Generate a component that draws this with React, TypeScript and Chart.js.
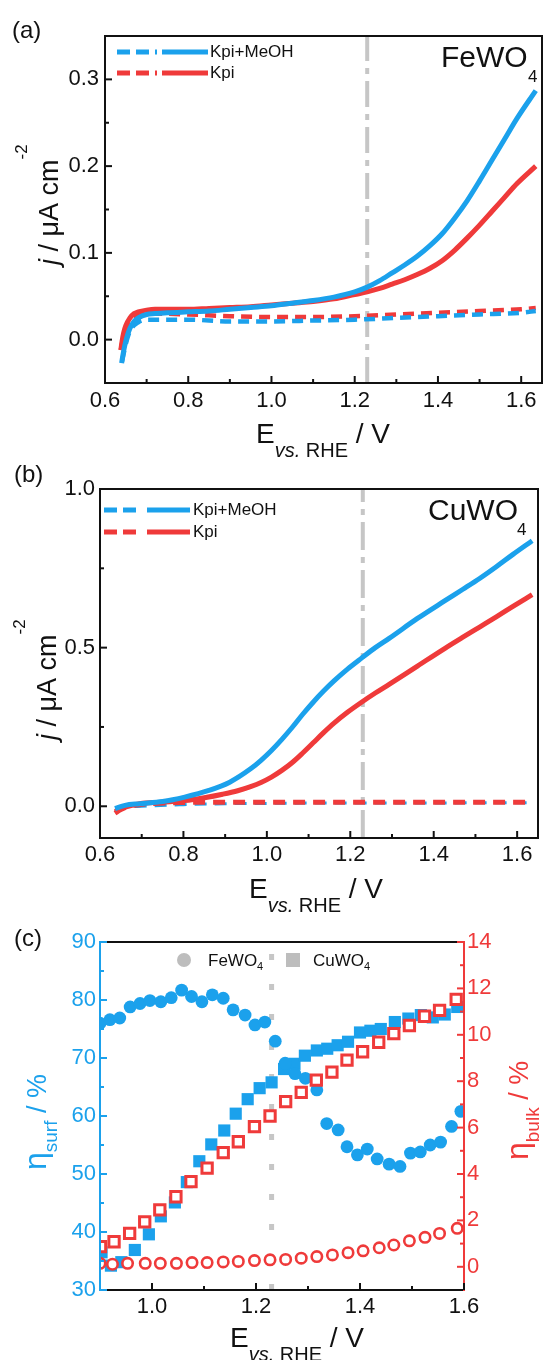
import React, { useEffect, useRef } from "react";
import { Chart, registerables } from "chart.js";

Chart.register(...registerables);

const FONT = '"Liberation Sans", Arial, Helvetica, sans-serif';
const BLUE = "#1BA1EC";
const RED = "#EF3A3A";
const GREY = "#C6C6C6";
const INK = "#111111";

// ---------- Panel (a): FeWO4 ----------
const A_MEOH_LIGHT_E = [0.640, 0.643, 0.647, 0.652, 0.66, 0.67, 0.68, 0.70, 0.72, 0.75, 0.80, 0.85, 0.90, 0.95, 1.00, 1.05, 1.10, 1.15, 1.20, 1.23, 1.26, 1.29, 1.32, 1.35, 1.38, 1.41, 1.44, 1.47, 1.50, 1.53, 1.56, 1.59, 1.635];
const A_MEOH_LIGHT_J = [-0.027, -0.018, -0.008, 0.002, 0.013, 0.021, 0.025, 0.029, 0.030, 0.031, 0.032, 0.033, 0.035, 0.037, 0.039, 0.042, 0.045, 0.049, 0.055, 0.0605, 0.068, 0.077, 0.086, 0.096, 0.108, 0.122, 0.140, 0.160, 0.183, 0.207, 0.231, 0.255, 0.287];
const A_KPI_LIGHT_E = [0.638, 0.641, 0.645, 0.650, 0.66, 0.67, 0.68, 0.70, 0.72, 0.75, 0.80, 0.85, 0.90, 0.95, 1.00, 1.05, 1.10, 1.15, 1.20, 1.23, 1.26, 1.29, 1.32, 1.35, 1.38, 1.41, 1.44, 1.47, 1.50, 1.53, 1.56, 1.59, 1.635];
const A_KPI_LIGHT_J = [-0.012, -0.002, 0.008, 0.016, 0.025, 0.030, 0.032, 0.034, 0.035, 0.035, 0.035, 0.036, 0.037, 0.038, 0.040, 0.042, 0.044, 0.047, 0.052, 0.055, 0.059, 0.064, 0.069, 0.075, 0.082, 0.091, 0.103, 0.117, 0.132, 0.148, 0.164, 0.180, 0.200];
const A_MEOH_DARK_E = [0.641, 0.65, 0.66, 0.68, 0.70, 0.80, 0.90, 1.00, 1.10, 1.20, 1.30, 1.40, 1.50, 1.60, 1.635];
const A_MEOH_DARK_J = [-0.025, -0.005, 0.010, 0.020, 0.023, 0.023, 0.021, 0.021, 0.022, 0.023, 0.025, 0.027, 0.029, 0.031, 0.033];
const A_KPI_DARK_E = [0.638, 0.645, 0.655, 0.67, 0.69, 0.72, 0.80, 0.90, 1.00, 1.10, 1.20, 1.30, 1.40, 1.50, 1.60, 1.635];
const A_KPI_DARK_J = [-0.012, 0.005, 0.018, 0.026, 0.029, 0.030, 0.029, 0.027, 0.026, 0.026, 0.027, 0.029, 0.031, 0.033, 0.035, 0.0365];

// ---------- Panel (b): CuWO4 ----------
const B_MEOH_LIGHT_E = [0.636, 0.66, 0.695, 0.75, 0.803, 0.861, 0.911, 0.961, 0.986, 1.011, 1.036, 1.061, 1.086, 1.111, 1.136, 1.161, 1.194, 1.227, 1.26, 1.294, 1.361, 1.427, 1.47, 1.51, 1.55, 1.59, 1.636];
const B_MEOH_LIGHT_J = [-0.007, 0.003, 0.008, 0.015, 0.029, 0.050, 0.076, 0.118, 0.145, 0.176, 0.211, 0.249, 0.290, 0.328, 0.363, 0.395, 0.433, 0.467, 0.500, 0.530, 0.592, 0.648, 0.684, 0.718, 0.755, 0.794, 0.837];
const B_KPI_LIGHT_E = [0.636, 0.66, 0.695, 0.75, 0.803, 0.85, 0.894, 0.93, 0.961, 0.986, 1.011, 1.036, 1.061, 1.086, 1.111, 1.136, 1.161, 1.194, 1.227, 1.26, 1.294, 1.361, 1.427, 1.47, 1.51, 1.55, 1.59, 1.636];
const B_KPI_LIGHT_J = [-0.017, -0.003, 0.008, 0.013, 0.018, 0.027, 0.038, 0.049, 0.062, 0.075, 0.092, 0.113, 0.138, 0.168, 0.200, 0.232, 0.262, 0.297, 0.328, 0.357, 0.385, 0.442, 0.498, 0.533, 0.565, 0.597, 0.630, 0.667];
const B_MEOH_DARK_E = [0.636, 0.66, 0.70, 0.80, 0.90, 1.00, 1.10, 1.20, 1.30, 1.40, 1.50, 1.60, 1.636];
const B_MEOH_DARK_J = [-0.012, -0.004, 0.000, 0.005, 0.008, 0.009, 0.010, 0.010, 0.010, 0.010, 0.011, 0.011, 0.011];
const B_KPI_DARK_E = [0.636, 0.65, 0.67, 0.70, 0.80, 0.90, 1.00, 1.10, 1.20, 1.30, 1.40, 1.50, 1.60, 1.636];
const B_KPI_DARK_J = [-0.022, -0.010, 0.000, 0.006, 0.012, 0.013, 0.013, 0.013, 0.013, 0.013, 0.013, 0.013, 0.013, 0.013];

// ---------- Panel (c): efficiencies ----------
const C_FE_SURF_E = [0.900, 0.919, 0.938, 0.958, 0.977, 0.996, 1.017, 1.037, 1.057, 1.076, 1.096, 1.116, 1.137, 1.156, 1.179, 1.198, 1.217, 1.237, 1.256, 1.275, 1.295, 1.317, 1.336, 1.358, 1.375, 1.395, 1.414, 1.433, 1.456, 1.477, 1.497, 1.516, 1.535, 1.555, 1.576, 1.594];
const C_FE_SURF = [76.0, 76.6, 76.9, 78.8, 79.4, 79.9, 79.7, 80.4, 81.7, 80.6, 79.7, 80.9, 80.3, 78.3, 77.4, 75.7, 76.2, 72.9, 69.1, 67.3, 66.5, 64.5, 58.7, 57.6, 54.7, 53.3, 54.3, 52.6, 51.7, 51.3, 53.6, 53.8, 55.0, 55.5, 58.2, 60.8];
const C_CU_SURF_E = [0.903, 0.921, 0.941, 0.967, 0.994, 1.017, 1.044, 1.067, 1.091, 1.114, 1.139, 1.161, 1.184, 1.207, 1.230, 1.254, 1.274, 1.294, 1.317, 1.337, 1.357, 1.377, 1.400, 1.420, 1.440, 1.467, 1.493, 1.517, 1.540, 1.563, 1.587];
const C_CU_SURF = [36.5, 34.2, 34.8, 36.9, 39.6, 42.7, 45.1, 48.6, 52.2, 55.1, 57.5, 60.4, 62.9, 64.8, 65.8, 68.1, 69.0, 70.4, 71.3, 71.6, 72.2, 72.8, 74.4, 74.7, 75.0, 76.2, 76.8, 77.4, 77.0, 77.5, 78.8];
const C_CU_BULK_E = [0.901, 0.927, 0.957, 0.986, 1.015, 1.046, 1.075, 1.106, 1.137, 1.166, 1.197, 1.227, 1.257, 1.287, 1.316, 1.346, 1.375, 1.405, 1.436, 1.465, 1.495, 1.524, 1.553, 1.585];
const C_CU_BULK = [0.87, 1.08, 1.44, 1.94, 2.45, 3.02, 3.67, 4.25, 4.92, 5.39, 6.04, 6.50, 7.12, 7.52, 8.05, 8.39, 8.91, 9.27, 9.68, 10.05, 10.40, 10.80, 11.05, 11.53];
const C_FE_BULK_E = [0.900, 0.924, 0.953, 0.987, 1.016, 1.047, 1.077, 1.106, 1.137, 1.166, 1.197, 1.227, 1.257, 1.287, 1.317, 1.347, 1.377, 1.406, 1.437, 1.465, 1.495, 1.525, 1.553, 1.587];
const C_FE_BULK = [0.15, 0.11, 0.15, 0.15, 0.15, 0.15, 0.18, 0.18, 0.21, 0.23, 0.27, 0.30, 0.32, 0.37, 0.44, 0.51, 0.61, 0.69, 0.82, 0.94, 1.12, 1.27, 1.44, 1.66];

// ---------- reference potential ----------
const E_REF = 1.23;

// ---------- ticks ----------
const AB_X_TICKS = [0.6, 0.8, 1.0, 1.2, 1.4, 1.6];
const AB_X_MINOR = [0.7, 0.9, 1.1, 1.3, 1.5];
const A_Y_TICKS = [0.0, 0.1, 0.2, 0.3];
const A_Y_MINOR = [0.05, 0.15, 0.25];
const B_Y_TICKS = [0.0, 0.5, 1.0];
const B_Y_MINOR = [0.25, 0.75];
const C_X_TICKS = [1.0, 1.2, 1.4, 1.6];
const C_X_MINOR = [1.1, 1.3, 1.5];
const C_YL_TICKS = [30, 40, 50, 60, 70, 80, 90];
const C_YL_MINOR = [35, 45, 55, 65, 75, 85];
const C_YR_TICKS = [0, 2, 4, 6, 8, 10, 12, 14];
const C_YR_MINOR = [1, 3, 5, 7, 9, 11, 13];

// ---------- helpers ----------
const pts = (xs: number[], ys: number[]) => xs.map((x, i) => ({ x, y: ys[i] }));
const font = (size: number, italic?: boolean) => `${italic ? "italic " : ""}${size}px ${FONT}`;

type Piece = { t: string; size: number; italic?: boolean; dy?: number };

function drawRich(ctx: CanvasRenderingContext2D, pieces: Piece[], x: number, y: number, color: string, rotate = false) {
  ctx.save();
  ctx.translate(x, y);
  if (rotate) ctx.rotate(-Math.PI / 2);
  ctx.fillStyle = color;
  ctx.textBaseline = "alphabetic";
  ctx.textAlign = "left";
  let cx = 0;
  for (const p of pieces) {
    ctx.font = font(p.size, p.italic);
    ctx.fillText(p.t, cx, p.dy || 0);
    cx += ctx.measureText(p.t).width;
  }
  ctx.restore();
}

function seg(ctx: CanvasRenderingContext2D, x1: number, y1: number, x2: number, y2: number) {
  ctx.beginPath();
  ctx.moveTo(x1, y1);
  ctx.lineTo(x2, y2);
  ctx.stroke();
}

function drawFrame(ctx: CanvasRenderingContext2D, a: any, top: string, right: string, bottom: string, left: string) {
  ctx.save();
  ctx.lineWidth = 2;
  ctx.lineCap = "square";
  ctx.strokeStyle = top; seg(ctx, a.left, a.top, a.right, a.top);
  ctx.strokeStyle = bottom; seg(ctx, a.left, a.bottom, a.right, a.bottom);
  ctx.strokeStyle = left; seg(ctx, a.left, a.top, a.left, a.bottom);
  ctx.strokeStyle = right; seg(ctx, a.right, a.top, a.right, a.bottom);
  ctx.restore();
}

function drawTicks(ctx: CanvasRenderingContext2D, scale: any, values: number[], len: number, side: string, color: string) {
  const a = scale.chart.chartArea;
  ctx.save();
  ctx.lineWidth = 2;
  ctx.strokeStyle = color;
  for (const v of values) {
    const p = scale.getPixelForValue(v);
    if (side === "bottom") seg(ctx, p, a.bottom, p, a.bottom - len);
    else if (side === "left") seg(ctx, a.left, p, a.left + len, p);
    else seg(ctx, a.right, p, a.right - len, p);
  }
  ctx.restore();
}

function legendRow(ctx: CanvasRenderingContext2D, y: number, x0: number, xd: number, xs: number, x1: number, color: string, label: string, tx: number) {
  ctx.save();
  ctx.strokeStyle = color;
  ctx.lineWidth = 5;
  ctx.lineCap = "butt";
  ctx.setLineDash([13, 6]);
  seg(ctx, x0, y, xd, y);
  ctx.setLineDash([]);
  seg(ctx, xs, y, x1, y);
  ctx.fillStyle = INK;
  ctx.font = font(17);
  ctx.textBaseline = "middle";
  ctx.textAlign = "left";
  ctx.fillText(label, tx, y);
  ctx.restore();
}

function lineDs(xs: number[], ys: number[], color: string, width: number, dash: number[], order: number) {
  return {
    type: "line",
    data: pts(xs, ys),
    borderColor: color,
    backgroundColor: color,
    borderWidth: width,
    borderDash: dash,
    borderCapStyle: "butt",
    pointRadius: 0,
    cubicInterpolationMode: "monotone",
    fill: false,
    order,
  };
}

function refLine(ymin: number, ymax: number, dash: number[], width: number) {
  return {
    type: "line",
    data: [{ x: E_REF, y: ymin }, { x: E_REF, y: ymax }],
    borderColor: GREY,
    borderWidth: width,
    borderDash: dash,
    borderCapStyle: "butt",
    pointRadius: 0,
    fill: false,
    order: 20,
  };
}

function xScale(min: number, max: number, ticks: number[], height: number, padding: number) {
  return {
    type: "linear",
    position: "bottom",
    min,
    max,
    afterBuildTicks: (s: any) => { s.ticks = ticks.map((v) => ({ value: v })); },
    afterFit: (s: any) => { s.height = height; s.paddingLeft = 0; s.paddingRight = 0; },
    grid: { display: false, drawTicks: false },
    border: { display: false },
    ticks: { autoSkip: false, maxRotation: 0, minRotation: 0, padding, color: INK, font: { size: 22, family: FONT }, callback: (v: any) => Number(v).toFixed(1) },
  };
}

function yScale(min: number, max: number, ticks: number[], width: number, padding: number, position: string, color: string, digits: number) {
  return {
    type: "linear",
    position,
    min,
    max,
    afterBuildTicks: (s: any) => { s.ticks = ticks.map((v) => ({ value: v })); },
    afterFit: (s: any) => { s.width = width; s.paddingTop = 0; s.paddingBottom = 0; },
    grid: { display: false, drawTicks: false },
    border: { display: false },
    ticks: { autoSkip: false, padding, color, font: { size: 22, family: FONT }, callback: (v: any) => Number(v).toFixed(digits) },
  };
}

const baseOptions = (padding: any) => ({
  responsive: false,
  maintainAspectRatio: false,
  animation: false,
  devicePixelRatio: 1,
  events: [],
  layout: { padding, autoPadding: false },
  plugins: { legend: { display: false }, tooltip: { enabled: false } },
});

function configA(): any {
  return {
    type: "line",
    data: {
      datasets: [
        lineDs(A_MEOH_LIGHT_E, A_MEOH_LIGHT_J, BLUE, 5, [], 1),
        lineDs(A_KPI_LIGHT_E, A_KPI_LIGHT_J, RED, 5, [], 2),
        lineDs(A_MEOH_DARK_E, A_MEOH_DARK_J, BLUE, 4.5, [11, 7], 3),
        lineDs(A_KPI_DARK_E, A_KPI_DARK_J, RED, 4.5, [11, 7], 4),
        refLine(-0.05, 0.35, [26, 7, 6, 7], 4),
      ],
    },
    options: {
      ...baseOptions({ top: 36, right: 1, left: 0, bottom: 0 }),
      scales: {
        x: xScale(0.6, 1.65, AB_X_TICKS, 77, 5),
        y: yScale(-0.05, 0.35, A_Y_TICKS, 105, 6, "left", INK, 1),
      },
    },
    plugins: [
      {
        id: "decorA",
        afterDraw(chart: any) {
          const ctx = chart.ctx as CanvasRenderingContext2D;
          const a = chart.chartArea;
          const xs = chart.scales.x, ys = chart.scales.y;
          drawFrame(ctx, a, INK, INK, INK, INK);
          drawTicks(ctx, xs, AB_X_TICKS, 7, "bottom", INK);
          drawTicks(ctx, xs, AB_X_MINOR, 4, "bottom", INK);
          drawTicks(ctx, ys, A_Y_TICKS, 7, "left", INK);
          drawTicks(ctx, ys, A_Y_MINOR, 4, "left", INK);
          drawRich(ctx, [{ t: "(a)", size: 24 }], 12, 38, INK);
          drawRich(ctx, [{ t: "j", size: 27, italic: true }, { t: " / \u03bcA cm", size: 27 }, { t: "-2", size: 17, dy: -31 }], 58, 265, INK, true);
          drawRich(ctx, [{ t: "E", size: 28 }, { t: "vs.", size: 20, italic: true, dy: 14 }, { t: " RHE", size: 20, dy: 14 }, { t: " / V", size: 28 }], 256, 443, INK);
          drawRich(ctx, [{ t: "FeWO", size: 30 }], 441, 67, INK);
          drawRich(ctx, [{ t: "4", size: 17 }], 528, 82, INK);
          legendRow(ctx, 52, 117, 157, 162, 208, BLUE, "Kpi+MeOH", 210);
          legendRow(ctx, 73, 117, 157, 162, 208, RED, "Kpi", 210);
        },
      },
    ],
  };
}

function configB(): any {
  return {
    type: "line",
    data: {
      datasets: [
        lineDs(B_MEOH_LIGHT_E, B_MEOH_LIGHT_J, BLUE, 5, [], 1),
        lineDs(B_KPI_LIGHT_E, B_KPI_LIGHT_J, RED, 5, [], 2),
        lineDs(B_KPI_DARK_E, B_KPI_DARK_J, RED, 5, [12, 8], 3),
        lineDs(B_MEOH_DARK_E, B_MEOH_DARK_J, BLUE, 3, [12, 8], 4),
        refLine(-0.1, 1.0, [28, 7, 6, 7], 4),
      ],
    },
    options: {
      ...baseOptions({ top: 29, right: 5, left: 0, bottom: 0 }),
      scales: {
        x: xScale(0.6, 1.65, AB_X_TICKS, 82, 4),
        y: yScale(-0.1, 1.0, B_Y_TICKS, 100, 5, "left", INK, 1),
      },
    },
    plugins: [
      {
        id: "decorB",
        afterDraw(chart: any) {
          const ctx = chart.ctx as CanvasRenderingContext2D;
          const a = chart.chartArea;
          const xs = chart.scales.x, ys = chart.scales.y;
          drawFrame(ctx, a, INK, INK, INK, INK);
          drawTicks(ctx, xs, AB_X_TICKS, 7, "bottom", INK);
          drawTicks(ctx, xs, AB_X_MINOR, 4, "bottom", INK);
          drawTicks(ctx, ys, B_Y_TICKS, 7, "left", INK);
          drawTicks(ctx, ys, B_Y_MINOR, 4, "left", INK);
          drawRich(ctx, [{ t: "(b)", size: 24 }], 14, 22, INK);
          drawRich(ctx, [{ t: "j", size: 27, italic: true }, { t: " / \u03bcA cm", size: 27 }, { t: "-2", size: 17, dy: -31 }], 56, 280, INK, true);
          drawRich(ctx, [{ t: "E", size: 28 }, { t: "vs.", size: 20, italic: true, dy: 14 }, { t: " RHE", size: 20, dy: 14 }, { t: " / V", size: 28 }], 249, 438, INK);
          drawRich(ctx, [{ t: "CuWO", size: 30 }], 428, 60, INK);
          drawRich(ctx, [{ t: "4", size: 17 }], 517, 75, INK);
          legendRow(ctx, 50, 104, 141, 147, 190, BLUE, "Kpi+MeOH", 193);
          legendRow(ctx, 72, 104, 141, 147, 190, RED, "Kpi", 193);
        },
      },
    ],
  };
}

function scatterDs(xs: number[], ys: number[], axis: string, style: string, radius: number, fill: string, stroke: string, bw: number, order: number) {
  return {
    type: "scatter",
    data: pts(xs, ys),
    yAxisID: axis,
    pointStyle: style,
    pointRadius: radius,
    pointBackgroundColor: fill,
    pointBorderColor: stroke,
    pointBorderWidth: bw,
    showLine: false,
    clip: 0,
    order,
  };
}

function configC(): any {
  return {
    type: "scatter",
    data: {
      datasets: [
        scatterDs(C_CU_BULK_E, C_CU_BULK, "y2", "rect", 7.3, "#ffffff", RED, 3, 1),
        scatterDs(C_FE_BULK_E, C_FE_BULK, "y2", "circle", 5.2, "#ffffff", RED, 2.6, 2),
        scatterDs(C_FE_SURF_E, C_FE_SURF, "y", "circle", 6.4, BLUE, BLUE, 0, 3),
        scatterDs(C_CU_SURF_E, C_CU_SURF, "y", "rect", 8.6, BLUE, BLUE, 0, 4),
        { ...refLine(30, 90, [6, 24], 5), yAxisID: "y" },
      ],
    },
    options: {
      ...baseOptions({ top: 42, right: 0, left: 0, bottom: 0 }),
      scales: {
        x: xScale(0.9, 1.6, C_X_TICKS, 70, 4),
        y: yScale(30, 90, C_YL_TICKS, 100, 4, "left", BLUE, 0),
        y2: yScale(-1, 14, C_YR_TICKS, 79, 3, "right", RED, 0),
      },
    },
    plugins: [
      {
        id: "decorC",
        afterDraw(chart: any) {
          const ctx = chart.ctx as CanvasRenderingContext2D;
          const a = chart.chartArea;
          const xs = chart.scales.x, yl = chart.scales.y, yr = chart.scales.y2;
          drawFrame(ctx, a, INK, RED, INK, BLUE);
          drawTicks(ctx, xs, C_X_TICKS, 7, "bottom", INK);
          drawTicks(ctx, xs, C_X_MINOR, 4, "bottom", INK);
          drawTicks(ctx, yl, C_YL_TICKS, 7, "left", BLUE);
          drawTicks(ctx, yl, C_YL_MINOR, 4, "left", BLUE);
          drawTicks(ctx, yr, C_YR_TICKS, 7, "right", RED);
          drawTicks(ctx, yr, C_YR_MINOR, 4, "right", RED);
          drawRich(ctx, [{ t: "(c)", size: 24 }], 14, 46, INK);
          drawRich(ctx, [{ t: "\u03b7", size: 32 }, { t: "surf", size: 19, dy: 11 }, { t: " / %", size: 27 }], 46, 270, BLUE, true);
          drawRich(ctx, [{ t: "\u03b7", size: 32 }, { t: "bulk", size: 19, dy: 11 }, { t: " / %", size: 27 }], 528, 260, RED, true);
          drawRich(ctx, [{ t: "E", size: 28 }, { t: "vs.", size: 20, italic: true, dy: 14 }, { t: " RHE", size: 20, dy: 14 }, { t: " / V", size: 28 }], 230, 447, INK);
          // legend
          ctx.save();
          ctx.fillStyle = "#BDBDBD";
          ctx.beginPath();
          ctx.arc(184, 60, 7, 0, Math.PI * 2);
          ctx.fill();
          ctx.fillRect(286, 53, 14, 14);
          ctx.restore();
          drawRich(ctx, [{ t: "FeWO", size: 17 }, { t: "4", size: 11, dy: 4 }], 208, 66, INK);
          drawRich(ctx, [{ t: "CuWO", size: 17 }, { t: "4", size: 11, dy: 4 }], 313, 66, INK);
        },
      },
    ],
  };
}

export default function App() {
  const aRef = useRef<HTMLCanvasElement>(null);
  const bRef = useRef<HTMLCanvasElement>(null);
  const cRef = useRef<HTMLCanvasElement>(null);

  useEffect(() => {
    const charts = [
      new Chart(aRef.current as HTMLCanvasElement, configA()),
      new Chart(bRef.current as HTMLCanvasElement, configB()),
      new Chart(cRef.current as HTMLCanvasElement, configC()),
    ];
    return () => charts.forEach((c) => c.destroy());
  }, []);

  return (
    <div style={{ position: "absolute", left: 0, top: 0, width: 543, height: 1360, background: "#ffffff", overflow: "hidden" }}>
      <canvas ref={aRef} width={543} height={460} style={{ position: "absolute", left: 0, top: 0, width: 543, height: 460 }} />
      <canvas ref={bRef} width={543} height={460} style={{ position: "absolute", left: 0, top: 460, width: 543, height: 460 }} />
      <canvas ref={cRef} width={543} height={460} style={{ position: "absolute", left: 0, top: 900, width: 543, height: 460 }} />
    </div>
  );
}
